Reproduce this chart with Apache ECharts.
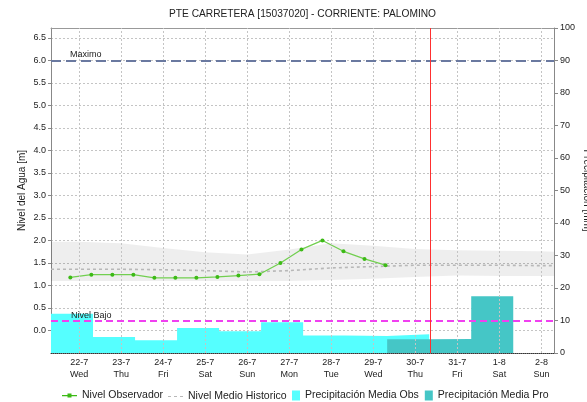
<!DOCTYPE html>
<html><head><meta charset="utf-8">
<script src="https://cdn.jsdelivr.net/npm/echarts@6/dist/echarts.min.js"></script>
<style>html,body{margin:0;padding:0;background:#fff}#c{width:587px;height:402px}</style>
</head><body><div id="c"></div>
<script>
// ---- data (x in days, 0 = 22-7) ----
const dayLabels = ['22-7','23-7','24-7','25-7','26-7','27-7','28-7','29-7','30-7','31-7','1-8','2-8'];
const dayNames  = ['Wed','Thu','Fri','Sat','Sun','Mon','Tue','Wed','Thu','Fri','Sat','Sun'];
const dayPos    = [0,1,2,3,4,5,6,7,8,9,10,11];

const obsTime  = [-0.21,0.29,0.79,1.29,1.79,2.29,2.79,3.29,3.79,4.29,4.79,5.29,5.79,6.29,6.79,7.29];
const obsLevel = [1.18,1.24,1.24,1.24,1.17,1.17,1.17,1.19,1.22,1.25,1.50,1.80,2.00,1.76,1.59,1.45];

const histTime = [-0.67,0,1,2,3,4,5,6,7,8,9,10,11,11.3];
const histMean = [1.36,1.36,1.36,1.35,1.33,1.30,1.33,1.39,1.42,1.45,1.45,1.45,1.44,1.44];
const histHigh = [1.97,1.97,1.94,1.83,1.74,1.69,1.80,1.94,1.88,1.81,1.78,1.77,1.76,1.75];
const histLow  = [1.10,1.10,1.10,1.10,1.10,1.10,1.10,1.12,1.15,1.19,1.22,1.21,1.21,1.21];

const precipDayStart = [-0.67,0.33,1.33,2.33,3.33,4.33,5.33,6.33,7.33,8.33,9.33,10.33,11.33];
const precipObs = [12.1,4.9,3.9,7.7,6.7,9.5,5.4,5.2,5.8];   // days 0..8
const precipPro = [4.2,4.3,17.5,0];                        // days 8..11
const proStartIdx = 8;

const nivelMaximo = 6.0;
const nivelBajo = 0.22;
const nowTime = 8.36;

// ---- helpers ----
function stepData(vals, startIdx) {
  const d = vals.map((v, i) => [precipDayStart[startIdx + i], v]);
  d.push([precipDayStart[startIdx + vals.length], vals[vals.length - 1]]);
  return d;
}
const FONT = 'Liberation Sans, Arial, sans-serif';
const TXT = '#222';
const legendText = {fontSize: 10.5, color: TXT, fontFamily: FONT};

const chart = echarts.init(document.getElementById('c'), null, {renderer: 'canvas'});
chart.setOption({
  animation: false,
  backgroundColor: '#fff',
  textStyle: {fontFamily: FONT, color: TXT},
  title: {
    text: 'PTE CARRETERA [15037020] - CORRIENTE: PALOMINO',
    left: 169, top: 9, padding: 0,
    textStyle: {fontSize: 10.2, fontWeight: 'normal', color: TXT, fontFamily: FONT}
  },
  legend: [{
    left: 62, top: 390, padding: 0, itemWidth: 15, itemHeight: 5,
    textStyle: legendText,
    data: [{name: 'Nivel Observador', icon: 'path://M0,2h15v1.2h-15z M5.5,0.4h4v4.2h-4z'}]
  }, {
    left: 168, top: 391, padding: 0, itemWidth: 15, itemHeight: 1.2,
    textStyle: legendText,
    data: [{name: 'Nivel Medio Historico', icon: 'path://M0,0h3v1h-3z M6,0h3v1h-3z M12,0h3v1h-3z'}]
  }, {
    left: 292, top: 390, padding: 0, itemGap: 6, itemWidth: 8, itemHeight: 10,
    icon: 'rect',
    textStyle: legendText,
    data: ['Precipitación Media Obs', 'Precipitación Media Pro']
  }],
  grid: {left: 51, right: 33, top: 28, bottom: 49, containLabel: false, outerBoundsMode: 'none'},
  xAxis: [{
    type: 'value', min: -0.67, max: 11.3,
    axisLine: {show: true, onZero: false, lineStyle: {color: '#333', type: [1,1], width: 1}},
    axisTick: {show: false},
    splitLine: {show: false},
    axisLabel: {
      customValues: dayPos,
      fontSize: 9, lineHeight: 12, color: TXT, margin: 4, fontFamily: FONT,
      formatter: v => { const i = dayPos.indexOf(Math.round(v)); return i < 0 ? '' : dayLabels[i] + '\n' + dayNames[i]; }
    }
  }, {
    type: 'value', min: -0.67, max: 11.3, position: 'top',
    axisLine: {show: true, onZero: false, lineStyle: {color: '#999', width: 1}},
    axisTick: {show: false}, axisLabel: {show: false}, splitLine: {show: false}
  }],
  yAxis: [{
    type: 'value', min: -0.5, max: 6.72, interval: 0.5, position: 'left',
    name: 'Nivel del Agua [m]', nameLocation: 'middle', nameRotate: 90, nameGap: 24,
    nameMoveOverlap: false,
    nameTextStyle: {fontSize: 10, color: TXT, fontFamily: FONT},
    axisLine: {show: true, onZero: false, lineStyle: {color: '#888'}},
    axisTick: {show: true, length: 3, lineStyle: {color: '#888'}},
    axisLabel: {fontSize: 9, color: TXT, margin: 5, showMinLabel: false, showMaxLabel: false,
      formatter: v => v.toFixed(1)},
    splitLine: {show: true, lineStyle: {color: '#c4c4c4', type: [2,2], width: 1}}
  }, {
    type: 'value', min: 0, max: 100, interval: 10, position: 'right',
    name: 'Precipitación [mm]', nameLocation: 'middle', nameRotate: -90, nameGap: 28,
    nameMoveOverlap: false,
    nameTextStyle: {fontSize: 10, color: TXT, fontFamily: FONT},
    axisLine: {show: true, onZero: false, lineStyle: {color: '#888'}},
    axisTick: {show: true, length: 4, lineStyle: {color: '#888'}},
    axisLabel: {fontSize: 9, color: TXT, margin: 6},
    splitLine: {show: false}
  }],
  series: [
    { // vertical day grid lines
      type: 'line', name: 'grid', data: [], silent: true, z: 1,
      markLine: {silent: true, symbol: ['none','none'], label: {show: false},
        lineStyle: {color: '#c4c4c4', type: [2,2], width: 1},
        data: dayPos.map(d => ({xAxis: d}))}
    },
    { // historic range band
      type: 'custom', name: 'band', silent: true, z: 1,
      data: histTime.map((t, i) => [t, histLow[i], histHigh[i]]),
      encode: {x: 0, y: [1, 2]},
      renderItem: (params, api) => {
        if (params.dataIndex !== 0) return null;
        const top = histTime.map((t, i) => api.coord([t, histHigh[i]]));
        const bot = histTime.map((t, i) => api.coord([t, histLow[i]])).reverse();
        return {type: 'polygon', shape: {points: top.concat(bot)},
          style: {fill: 'rgba(0,0,0,0.065)'}};
      }
    },
    {
      type: 'line', name: 'Nivel Medio Historico', symbol: 'none',
      color: '#b8b8b8',
      lineStyle: {color: '#b8b8b8', width: 1.6, type: [3,3]},
      data: histTime.map((t, i) => [t, histMean[i]])
    },
    {
      type: 'line', name: 'Precipitación Media Obs', yAxisIndex: 1, step: 'end', symbol: 'none',
      color: '#55ffff', itemStyle: {color: '#55ffff'},
      lineStyle: {width: 0}, areaStyle: {color: '#55ffff', opacity: 1},
      data: stepData(precipObs, 0)
    },
    {
      type: 'line', name: 'Precipitación Media Pro', yAxisIndex: 1, step: 'end', symbol: 'none',
      color: '#45c6c6', itemStyle: {color: '#45c6c6'},
      lineStyle: {width: 0}, areaStyle: {color: '#45c6c6', opacity: 1},
      data: stepData(precipPro, proStartIdx)
    },
    {
      type: 'line', name: 'Nivel Observador', symbol: 'circle', symbolSize: 4,
      color: '#44bb22',
      itemStyle: {color: '#3cba16'},
      lineStyle: {color: '#72cf50', width: 1.3},
      data: obsTime.map((t, i) => [t, obsLevel[i]]),
      markLine: {
        silent: true, symbol: ['none','none'],
        data: [
          {yAxis: nivelMaximo, lineStyle: {color: '#6a79a0', width: 2, type: [10,5]},
            label: {show: true, formatter: 'Maximo', position: 'insideStartTop', distance: [19, 1],
              fontSize: 9, color: TXT, fontFamily: FONT}},
          {yAxis: nivelBajo, lineStyle: {color: '#f040f0', width: 2, type: [7,4]},
            label: {show: true, formatter: 'Nivel Bajo', position: 'insideStartTop', distance: [20, 1],
              fontSize: 9, color: TXT, fontFamily: FONT}}
        ]
      }
    },
    { // current time marker
      type: 'line', name: 'now', data: [], silent: true, z: 5,
      markLine: {silent: true, symbol: ['none','none'], label: {show: false},
        lineStyle: {color: '#ff3030', width: 1, type: 'solid', opacity: 1},
        emphasis: {disabled: true},
        data: [{xAxis: nowTime}]}
    }
  ]
});
</script>
</body></html>
